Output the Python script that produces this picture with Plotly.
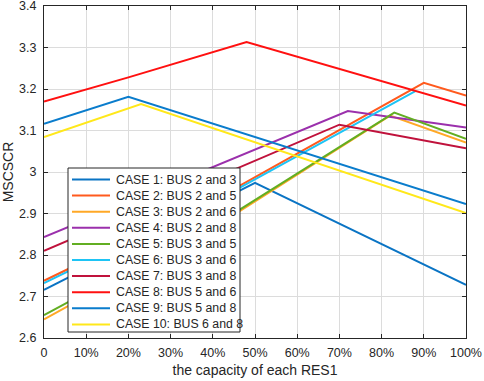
import plotly.graph_objects as go

# ---- data ----
case_names = [
    "CASE 1: BUS 2 and 3", "CASE 2: BUS 2 and 5", "CASE 3: BUS 2 and 6",
    "CASE 4: BUS 2 and 8", "CASE 5: BUS 3 and 5", "CASE 6: BUS 3 and 6",
    "CASE 7: BUS 3 and 8", "CASE 8: BUS 5 and 6", "CASE 9: BUS 5 and 8",
    "CASE 10: BUS 6 and 8",
]
case1_x = [0, 50, 100];        case1_y = [2.716, 2.974, 2.728]
case2_x = [0, 46, 90, 100];    case2_y = [2.738, 2.965, 3.215, 3.184]
case3_x = [0, 46, 82, 100];    case3_y = [2.645, 2.903, 3.136, 3.071]
case4_x = [0, 72, 100];        case4_y = [2.843, 3.147, 3.107]
case5_x = [0, 46, 83, 100];    case5_y = [2.655, 2.907, 3.143, 3.080]
case6_x = [0, 46, 88];         case6_y = [2.732, 2.960, 3.195]
case7_x = [0, 70, 100];        case7_y = [2.810, 3.114, 3.057]
case8_x = [0, 20, 48, 100];    case8_y = [3.170, 3.228, 3.313, 3.160]
case9_x = [0, 20, 100];        case9_y = [3.116, 3.181, 2.923]
case10_x = [0, 23, 100];       case10_y = [3.084, 3.164, 2.901]

x_tickvals = [0, 10, 20, 30, 40, 50, 60, 70, 80, 90, 100]
x_ticktext = ["0", "10%", "20%", "30%", "40%", "50%", "60%", "70%", "80%", "90%", "100%"]
y_tickvals = [2.6, 2.7, 2.8, 2.9, 3.0, 3.1, 3.2, 3.3, 3.4]
y_ticktext = ["2.6", "2.7", "2.8", "2.9", "3", "3.1", "3.2", "3.3", "3.4"]

xs = [case1_x, case2_x, case3_x, case4_x, case5_x, case6_x, case7_x, case8_x, case9_x, case10_x]
ys = [case1_y, case2_y, case3_y, case4_y, case5_y, case6_y, case7_y, case8_y, case9_y, case10_y]

# ---- styles ----
colors = ["#0a74c4", "#ff5a1e", "#ffa826", "#9b30ac", "#62ae22",
          "#1ec4f5", "#c0123c", "#ff1010", "#0a7ccc", "#ffe81a"]
FONT = "Liberation Sans, Arial, sans-serif"
W, H = 484, 381
ML, MR, MT, MB = 44, 18, 6, 43
PW, PH = W - ML - MR, H - MT - MB

fig = go.Figure()
for name, x, y, c in zip(case_names, xs, ys, colors):
    fig.add_trace(go.Scatter(x=x, y=y, mode="lines", name=name,
                             line=dict(color=c, width=2), showlegend=False))

# ---- hand-built legend box (MATLAB-style compact legend) ----
def px(xp):
    return (xp - ML) / PW

def py(yp):
    return (H - MB - yp) / PH

shapes = [dict(type="rect", xref="paper", yref="paper",
               x0=px(68), x1=px(240), y0=py(332), y1=py(168),
               line=dict(color="#262626", width=1), fillcolor="white", layer="above")]
annotations = []
for i, (name, c) in enumerate(zip(case_names, colors)):
    yy = 179.5 + 16.1 * i
    shapes.append(dict(type="line", xref="paper", yref="paper",
                       x0=px(72), x1=px(110), y0=py(yy), y1=py(yy),
                       line=dict(color=c, width=2), layer="above"))
    annotations.append(dict(text=name, xref="paper", yref="paper",
                            x=px(114), y=py(yy), xanchor="left", yanchor="middle",
                            showarrow=False, font=dict(family=FONT, size=12.3, color="#262626")))

axis_common = dict(showline=True, mirror="ticks", linecolor="#262626", linewidth=1,
                   ticks="inside", ticklen=4, tickcolor="#262626", automargin=False,
                   ticklabeloverflow="allow",
                   showgrid=True, gridcolor="#dcdcdc", gridwidth=1, zeroline=False,
                   tickfont=dict(family=FONT, size=12.5, color="#262626"))

fig.update_layout(
    width=W, height=H,
    margin=dict(l=ML, r=MR, t=MT, b=MB),
    paper_bgcolor="white", plot_bgcolor="white",
    xaxis=dict(range=[0, 100], tickvals=x_tickvals, ticktext=x_ticktext,
               ticklabelstandoff=3,
               title=dict(text="the capacity of each RES1", standoff=6,
                          font=dict(family=FONT, size=14, color="#262626")),
               **axis_common),
    yaxis=dict(range=[2.6, 3.4], tickvals=y_tickvals, ticktext=y_ticktext,
               ticklabelstandoff=4,
               title=dict(text="MSCSCR", standoff=2,
                          font=dict(family=FONT, size=14, color="#262626")),
               **axis_common),
    shapes=shapes, annotations=annotations,
)

fig.write_html("out.html", config={"displayModeBar": False},
               post_script="document.body.style.margin='0';document.body.style.overflow='hidden';")
